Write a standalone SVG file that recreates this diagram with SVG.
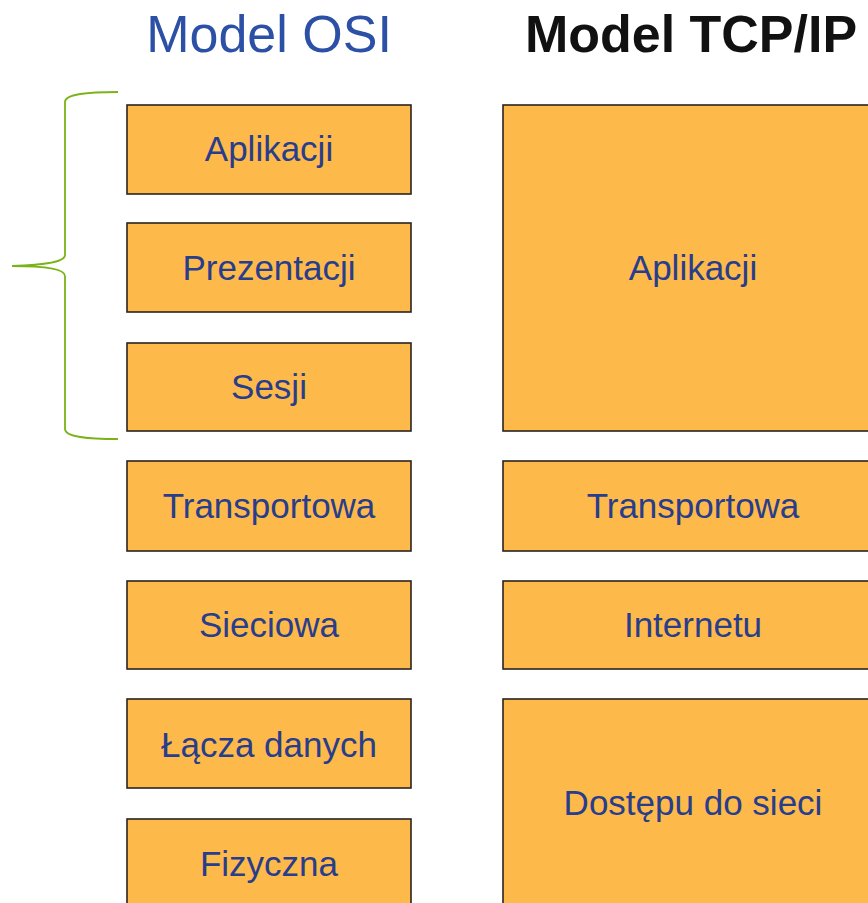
<svg xmlns="http://www.w3.org/2000/svg" width="868" height="903" viewBox="0 0 868 903">
  <style>
    .layer { fill: #fdb94a; stroke: #2a2420; stroke-width: 1.6; }
    .label { font-family: "Liberation Sans", Arial, sans-serif; font-size: 35px; fill: #283d8c; text-anchor: middle; }
    .title { font-family: "Liberation Sans", Arial, sans-serif; font-size: 52px; text-anchor: middle; }
    .brace { fill: none; stroke: #7ab317; stroke-width: 1.8; }
  </style>
  <rect width="868" height="903" fill="#ffffff"/>

  <!-- column headings -->
  <text class="title" x="269" y="52" fill="#2b50a5">Model OSI</text>
  <text class="title" x="691" y="52" fill="#111111" font-weight="bold">Model TCP/IP</text>

  <!-- OSI layers -->
  <g id="osi-aplikacji"><rect class="layer" x="127" y="105" width="284" height="89"/><text class="label" x="269" y="161">Aplikacji</text></g>
  <g id="osi-prezentacji"><rect class="layer" x="127" y="223" width="284" height="89"/><text class="label" x="269" y="280">Prezentacji</text></g>
  <g id="osi-sesji"><rect class="layer" x="127" y="343" width="284" height="88"/><text class="label" x="269" y="399">Sesji</text></g>
  <g id="osi-transportowa"><rect class="layer" x="127" y="461" width="284" height="90"/><text class="label" x="269" y="518">Transportowa</text></g>
  <g id="osi-sieciowa"><rect class="layer" x="127" y="581" width="284" height="88"/><text class="label" x="269" y="637">Sieciowa</text></g>
  <g id="osi-lacza"><rect class="layer" x="127" y="699" width="284" height="89"/><text class="label" x="269" y="757">Łącza danych</text></g>
  <g id="osi-fizyczna"><rect class="layer" x="127" y="819" width="284" height="100"/><text class="label" x="269" y="876">Fizyczna</text></g>

  <!-- TCP/IP layers -->
  <g id="tcp-aplikacji"><rect class="layer" x="503" y="105" width="380" height="326"/><text class="label" x="693" y="280">Aplikacji</text></g>
  <g id="tcp-transportowa"><rect class="layer" x="503" y="461" width="380" height="90"/><text class="label" x="693" y="518">Transportowa</text></g>
  <g id="tcp-internetu"><rect class="layer" x="503" y="581" width="380" height="88"/><text class="label" x="693" y="637">Internetu</text></g>
  <g id="tcp-dostepu"><rect class="layer" x="503" y="699" width="380" height="220"/><text class="label" x="693" y="815">Dostępu do sieci</text></g>

  <!-- brace grouping the upper three OSI layers -->
  <g id="connectors">
    <path class="brace" d="M118,92 C88,92 65,94 65,102 L65,255 C65,263 40,265 12,266 C40,266 65,268 65,276 L65,429 C65,437 88,439 118,439"/>
  </g>
</svg>
